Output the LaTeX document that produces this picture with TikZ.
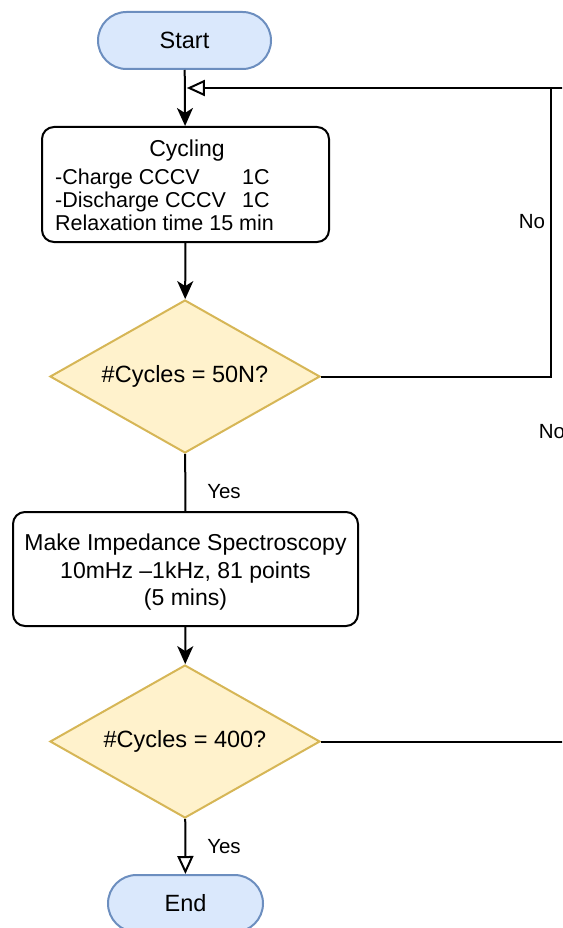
\documentclass[tikz,border=0pt]{standalone}
\usepackage{fontspec}
\setmainfont{Liberation Sans}
\usetikzlibrary{shapes.geometric,arrows.meta}
\definecolor{termfill}{HTML}{DAE8FC}
\definecolor{termdraw}{HTML}{6C8EBF}
\definecolor{decfill}{HTML}{FFF2CC}
\definecolor{decdraw}{HTML}{D6B656}
\begin{document}
\begin{tikzpicture}[x=1pt,y=-1pt,
  term/.style={draw=termdraw,fill=termfill,line width=2pt,rounded corners=28.5pt,minimum height=57pt,inner sep=0pt,font=\fontsize{23.5}{28}\selectfont},
  proc/.style={draw=black,line width=2pt,rounded corners=12pt,inner sep=0pt},
  dec/.style={diamond,aspect=1.765,draw=decdraw,fill=decfill,line width=2pt,minimum width=270pt,minimum height=153pt,inner sep=0pt,font=\fontsize{23.5}{28}\selectfont},
  conn/.style={line width=2pt},
  fillarrow/.style={-{Stealth[length=18pt,width=16pt,inset=5pt]}},
  openarrow/.style={-{Triangle[open,length=18pt,width=16pt]}},
  lbl/.style={font=\fontsize{20.5}{24}\selectfont},
  small/.style={font=\fontsize{21.5}{24}\selectfont,inner sep=0pt},
]
\useasboundingbox (0,0) rectangle (562,928);
\clip (0,0) rectangle (562,928);

\node[term,minimum width=173pt] (start) at (184.5,40.5) {Start};
\node[proc,minimum width=287pt,minimum height=115pt] (cyc) at (185.5,184.5) {};
\node[font=\fontsize{23}{26}\selectfont,anchor=base,inner sep=0pt] (cyct) at (187,157) {Cycling};
\node[small,anchor=base west] (c1) at (55,184.5) {-Charge CCCV};
\node[small,anchor=base west] (c1r) at (242,184.5) {1C};
\node[small,anchor=base west] (c2) at (55,207) {-Discharge CCCV};
\node[small,anchor=base west] (c2r) at (242,207) {1C};
\node[small,anchor=base west] (c3) at (55,230) {Relaxation time 15 min};

\node[dec] (d1) at (185,376.5) {\#Cycles = 50N?};
\node[proc,minimum width=345pt,minimum height=114pt] (eis) at (185.5,569) {};
\node[align=center,font=\fontsize{23}{27.5}\selectfont,inner sep=0pt] (eist) at (185.5,572.5) {Make Impedance Spectroscopy\\10mHz --1kHz, 81 points\\(5 mins)};
\node[dec] (d2) at (185,741.5) {\#Cycles = 400?};
\node[term,minimum width=155pt] (end) at (185.5,903.5) {End};

\coordinate (tip) at (186.8,88);
\coordinate (j1) at (551,88);
\coordinate (r1) at (600,88);

\draw[conn,fillarrow] (start) -- (cyc);
\draw[conn,fillarrow] (cyc) -- (d1);
\draw[conn] (d1) -- (eis);
\draw[conn,fillarrow] (eis) -- (d2);
\draw[conn,openarrow] (d2) -- (end);
\draw[conn] (d1.east) -| (j1);
\draw[conn,openarrow] (d2.east) -| (r1) -- (tip);

\node[lbl] (no1) at (532,222) {No};
\node[lbl] (no2) at (552,432) {No};
\node[lbl] (yes1) at (224,492) {Yes};
\node[lbl] (yes2) at (224,847) {Yes};
\end{tikzpicture}
\end{document}
